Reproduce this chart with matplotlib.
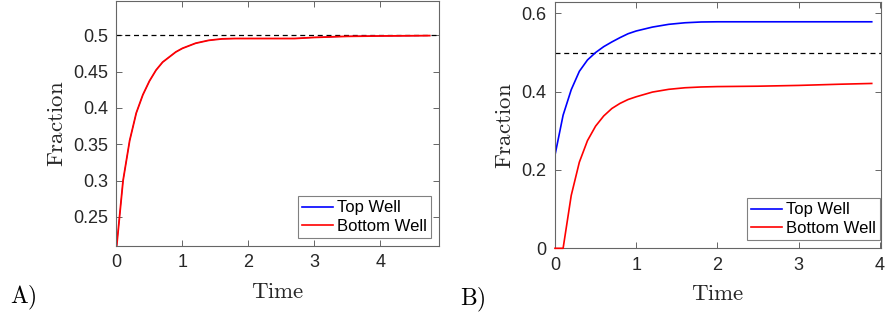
import numpy as np
import matplotlib
matplotlib.use("Agg")
import matplotlib.pyplot as plt

plt.rcParams['font.family'] = ['Liberation Sans', 'DejaVu Sans']
plt.rcParams['mathtext.fontset'] = 'cm'

# Panel A data
t_a = [0, 0.1, 0.2, 0.3, 0.4, 0.5, 0.6, 0.7, 0.8, 0.9, 1.0, 1.2, 1.4, 1.6,
       1.8, 2.0, 2.5, 2.7, 3.0, 3.5, 4.0, 4.5, 4.75]
bottom_a = [0.207, 0.300, 0.355, 0.393, 0.418, 0.437, 0.452, 0.463, 0.470,
            0.477, 0.482, 0.489, 0.493, 0.495, 0.4955, 0.4955, 0.4955,
            0.4955, 0.497, 0.4985, 0.499, 0.4993, 0.4995]
top_a = bottom_a  # hidden under the red curve

# Panel B data
t_b = [0, 0.1, 0.2, 0.3, 0.4, 0.5, 0.6, 0.7, 0.8, 0.9, 1.0, 1.2, 1.4, 1.6,
       1.8, 2.0, 2.5, 3.0, 3.5, 3.9]
top_b = [0.238, 0.340, 0.405, 0.452, 0.481, 0.500, 0.515, 0.527, 0.538,
         0.548, 0.555, 0.565, 0.572, 0.576, 0.578, 0.5785, 0.5785, 0.5785,
         0.5785, 0.5785]
bottom_b = [0.0, 0.0, 0.135, 0.220, 0.275, 0.312, 0.338, 0.357, 0.370,
            0.380, 0.387, 0.399, 0.406, 0.410, 0.412, 0.413, 0.414, 0.416,
            0.419, 0.421]

fig = plt.figure(figsize=(8.85, 3.21), dpi=100)
ax1 = fig.add_axes([0.1316, 0.2336, 0.3644, 0.763])
ax2 = fig.add_axes([0.6271, 0.2265, 0.368, 0.766])

def style(ax):
    ax.tick_params(direction='in', top=True, right=True, length=4,
                   width=0.6, color='0.3', labelsize=13, labelcolor='#262626',
                   pad=6)
    for s in ax.spines.values():
        s.set_color('0.4')
        s.set_linewidth(0.8)
    ax.set_xlabel(r'$\mathrm{Time}$', fontsize=16.5, color='0.15', labelpad=6)
    ax.set_ylabel(r'$\mathrm{Fraction}$', fontsize=16.5, color='0.15', labelpad=4)

# A
ax1.axhline(0.5, color='black', linestyle=(0, (4, 3)), linewidth=0.9)
ax1.plot(t_a, top_a, color='blue', linewidth=0.6, label='Top Well')
ax1.plot(t_a, bottom_a, color='red', linewidth=1.3, label='Bottom Well')
ax1.set_xlim(0, 4.89)
ax1.set_ylim(0.21, 0.547)
ax1.set_xticks([0, 1, 2, 3, 4])
ax1.set_yticks([0.25, 0.3, 0.35, 0.4, 0.45, 0.5])
ax1.set_yticklabels(['0.25', '0.3', '0.35', '0.4', '0.45', '0.5'])
style(ax1)

# B
ax2.axhline(0.5, color='black', linestyle=(0, (4, 3)), linewidth=0.9)
ax2.plot(t_b, top_b, color='blue', linewidth=1.2, label='Top Well')
ax2.plot(t_b, bottom_b, color='red', linewidth=1.2, label='Bottom Well',
         clip_on=False, zorder=5)
ax2.set_xlim(0, 4.01)
ax2.set_ylim(0, 0.628)
ax2.set_xticks([0, 1, 2, 3, 4])
ax2.set_yticks([0, 0.2, 0.4, 0.6])
ax2.set_yticklabels(['0', '0.2', '0.4', '0.6'])
style(ax2)

for ax, anchor in [(ax1, (0.974, 0.033)), (ax2, (0.997, 0.034))]:
    leg = ax.legend(loc='lower right', bbox_to_anchor=anchor, fontsize=12,
                    fancybox=False, framealpha=1, edgecolor='0.5',
                    borderaxespad=0, borderpad=0.25, labelspacing=0.2,
                    handlelength=1.85, handletextpad=0.2)
    leg.get_frame().set_linewidth(0.8)
    for line in leg.get_lines():
        line.set_linewidth(1.2)
    leg.set_zorder(10)

fig.text(10 / 885, 1 - 298 / 321, r'$\mathrm{A)}$', fontsize=17, va='center')
fig.text(460 / 885, 1 - 300 / 321, r'$\mathrm{B)}$', fontsize=17, va='center')

fig.savefig('out.png', dpi=100)
